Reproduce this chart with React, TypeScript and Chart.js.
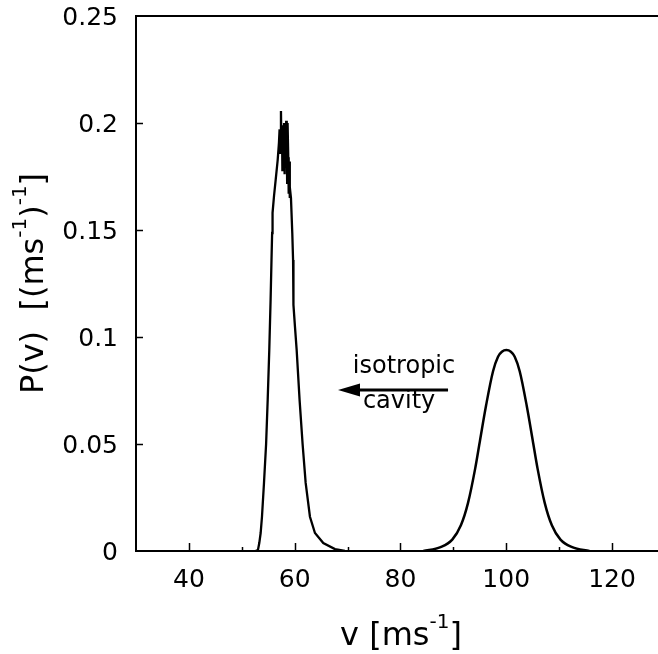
import React, { useEffect, useRef } from 'react';
import { Chart, registerables } from 'chart.js';

Chart.register(...registerables);

// ---- data ----
const xMin = 30;
const xMax = 128.7;
const yMin = 0;
const yMax = 0.25;
const xMajorTicks = [40, 60, 80, 100, 120];
const xMinorTicks = [50, 70, 90, 110];
const yMajorTicks = [0, 0.05, 0.1, 0.15, 0.2, 0.25];
const yTickLabels = ['0', '0.05', '0.1', '0.15', '0.2', '0.25'];

// narrow, noisy distribution (cavity)
const peak1V = [52.6, 53.06, 53.31, 53.57, 53.82, 54.2, 54.6, 54.9, 55.2, 55.45, 55.62, 55.74, 55.82, 56.1, 56.41, 56.79, 57.03, 57.15, 57.25, 57.41, 57.5, 57.6, 57.68, 57.78, 57.88, 58.0, 58.1, 58.2, 58.3, 58.4, 58.5, 58.58, 58.66, 58.79, 58.87, 58.95, 59.05, 59.11, 59.3, 59.55, 59.7, 59.74, 59.8, 60.06, 60.38, 60.93, 61.5, 62.08, 62.89, 63.84, 65.41, 67.62, 69.5];
const peak1P = [0, 0.0005, 0.0037, 0.0084, 0.016, 0.0318, 0.05, 0.0706, 0.0939, 0.1173, 0.136, 0.1486, 0.158, 0.166, 0.1734, 0.1827, 0.1907, 0.197, 0.186, 0.2056, 0.188, 0.199, 0.178, 0.196, 0.183, 0.2, 0.176, 0.197, 0.181, 0.201, 0.193, 0.172, 0.2, 0.184, 0.167, 0.182, 0.165, 0.17, 0.165, 0.1486, 0.136, 0.125, 0.115, 0.1047, 0.0939, 0.0706, 0.05, 0.0318, 0.016, 0.0084, 0.0037, 0.0009, 0];

// broad distribution (isotropic)
const peak2V = [84.33, 87.59, 89.8, 91.43, 92.78, 94.13, 95.06, 96.19, 97.51, 98.45, 99.18, 100.03, 100.88, 101.61, 102.55, 103.87, 105.0, 105.93, 107.28, 108.63, 110.26, 112.47, 115.73];
const peak2P = [0, 0.0018, 0.0053, 0.012, 0.0225, 0.0385, 0.0519, 0.068, 0.084, 0.0908, 0.0931, 0.0939, 0.0931, 0.0908, 0.084, 0.068, 0.0519, 0.0385, 0.0225, 0.012, 0.0053, 0.0018, 0];

// texts
const xTitleParts = ['v [ms', '-1', ']'];
const yTitleParts = ['P(v)  [(ms', '-1', ')', '-1', ']'];
const annoTop = 'isotropic';
const annoBottom = 'cavity';
const annoTopPos = [71.0, 0.0832];
const annoBottomPos = [72.9, 0.0668];
const arrowFrom = [89.0, 0.0752];
const arrowTo = [68.2, 0.0752];

const INK = '#000000';
const FONT = '"DejaVu Sans", "Liberation Sans", sans-serif';

function drawParts(ctx: CanvasRenderingContext2D, parts: string[], x: number, y: number, mainSize: number, supSize: number, rise: number) {
  let cx = x;
  parts.forEach((p, i) => {
    const sup = i % 2 === 1;
    ctx.font = `${sup ? supSize : mainSize}px ${FONT}`;
    ctx.fillText(p, cx, sup ? y - rise : y);
    cx += ctx.measureText(p).width;
  });
}
function partsWidth(ctx: CanvasRenderingContext2D, parts: string[], mainSize: number, supSize: number) {
  let w = 0;
  parts.forEach((p, i) => {
    ctx.font = `${i % 2 === 1 ? supSize : mainSize}px ${FONT}`;
    w += ctx.measureText(p).width;
  });
  return w;
}

const overlay = {
  id: 'overlay',
  afterDraw(chart: any) {
    const { ctx, chartArea: a, scales } = chart;
    const xs = scales.x;
    const ys = scales.y;
    ctx.save();
    ctx.strokeStyle = INK;
    ctx.fillStyle = INK;
    // top frame line
    ctx.lineWidth = 2;
    ctx.beginPath();
    ctx.moveTo(a.left - 1, a.top);
    ctx.lineTo(a.right, a.top);
    ctx.stroke();
    // inward ticks
    ctx.lineWidth = 1.5;
    ctx.beginPath();
    for (const v of xMajorTicks) {
      const px = Math.round(xs.getPixelForValue(v)) + 0.5;
      ctx.moveTo(px, a.bottom);
      ctx.lineTo(px, a.bottom - 8);
    }
    for (const v of xMinorTicks) {
      const px = Math.round(xs.getPixelForValue(v)) + 0.5;
      ctx.moveTo(px, a.bottom);
      ctx.lineTo(px, a.bottom - 4);
    }
    for (const v of yMajorTicks) {
      if (v === 0 || v === yMax) continue;
      const py = Math.round(ys.getPixelForValue(v)) + 0.5;
      ctx.moveTo(a.left, py);
      ctx.lineTo(a.left + 7, py);
    }
    ctx.stroke();

    ctx.textAlign = 'left';
    ctx.textBaseline = 'alphabetic';
    // x title
    const xw = partsWidth(ctx, xTitleParts, 32, 20);
    const xc = (a.left + a.right) / 2 + 4;
    drawParts(ctx, xTitleParts, xc - xw / 2, a.bottom + 94, 32, 20, 17);
    // y title (rotated)
    const yw = partsWidth(ctx, yTitleParts, 32, 20);
    const yc = (a.top + a.bottom) / 2;
    ctx.save();
    ctx.translate(a.left - 93, yc);
    ctx.rotate(-Math.PI / 2);
    drawParts(ctx, yTitleParts, -yw / 2, 0, 32, 20, 17);
    ctx.restore();

    // annotation
    ctx.font = `24px ${FONT}`;
    ctx.fillText(annoTop, xs.getPixelForValue(annoTopPos[0]), ys.getPixelForValue(annoTopPos[1]));
    ctx.fillText(annoBottom, xs.getPixelForValue(annoBottomPos[0]), ys.getPixelForValue(annoBottomPos[1]));
    const ax0 = xs.getPixelForValue(arrowFrom[0]);
    const ax1 = xs.getPixelForValue(arrowTo[0]);
    const ay = ys.getPixelForValue(arrowFrom[1]);
    ctx.lineWidth = 3;
    ctx.beginPath();
    ctx.moveTo(ax0, ay);
    ctx.lineTo(ax1 + 18, ay);
    ctx.stroke();
    ctx.beginPath();
    ctx.moveTo(ax1, ay);
    ctx.lineTo(ax1 + 22, ay - 6.5);
    ctx.lineTo(ax1 + 22, ay + 6.5);
    ctx.closePath();
    ctx.fill();
    ctx.restore();
  },
};

export default function App() {
  const ref = useRef<HTMLCanvasElement | null>(null);
  useEffect(() => {
    if (!ref.current) return;
    const chart = new Chart(ref.current, {
      type: 'scatter',
      data: {
        datasets: [
          {
            data: peak1V.map((v, i) => ({ x: v, y: peak1P[i] })),
            showLine: true,
            borderColor: INK,
            borderWidth: 2.3,
            pointRadius: 0,
            tension: 0,
          },
          {
            data: peak2V.map((v, i) => ({ x: v, y: peak2P[i] })),
            showLine: true,
            borderColor: INK,
            borderWidth: 2.5,
            pointRadius: 0,
            cubicInterpolationMode: 'monotone',
          },
        ],
      },
      options: {
        responsive: false,
        animation: false,
        devicePixelRatio: 1,
        layout: { padding: { top: 16, right: 0, left: 0, bottom: 0 } },
        plugins: { legend: { display: false }, tooltip: { enabled: false }, title: { display: false } },
        scales: {
          x: {
            type: 'linear',
            min: xMin,
            max: xMax,
            afterBuildTicks: (s: any) => {
              s.ticks = xMajorTicks.map((v) => ({ value: v }));
            },
            afterFit: (s: any) => {
              s.height = 103;
              s.paddingLeft = 0;
              s.paddingRight = 0;
            },
            ticks: {
              font: { family: FONT, size: 25 },
              color: INK,
              padding: 14,
              maxRotation: 0,
              autoSkip: false,
              callback: (v: any) => String(v),
            },
            grid: { display: false, drawTicks: false },
            border: { display: true, color: INK, width: 2 },
          },
          y: {
            type: 'linear',
            min: yMin,
            max: yMax,
            afterBuildTicks: (s: any) => {
              s.ticks = yMajorTicks.map((v) => ({ value: v }));
            },
            afterFit: (s: any) => {
              s.width = 136;
              s.paddingTop = 0;
              s.paddingBottom = 0;
            },
            ticks: {
              font: { family: FONT, size: 25 },
              color: INK,
              padding: 18,
              labelOffset: 2,
              autoSkip: false,
              callback: (v: any) => {
                const i = yMajorTicks.findIndex((t) => Math.abs(t - v) < 1e-9);
                return i >= 0 ? yTickLabels[i] : '';
              },
            },
            grid: { display: false, drawTicks: false },
            border: { display: true, color: INK, width: 2 },
          },
        },
      },
      plugins: [overlay],
    } as any);
    return () => chart.destroy();
  }, []);
  return (
    <div style={{ position: 'absolute', left: 0, top: 0, width: 658, height: 654, background: '#fff' }}>
      <canvas ref={ref} width={658} height={654} style={{ display: 'block', width: 658, height: 654 }} />
    </div>
  );
}
